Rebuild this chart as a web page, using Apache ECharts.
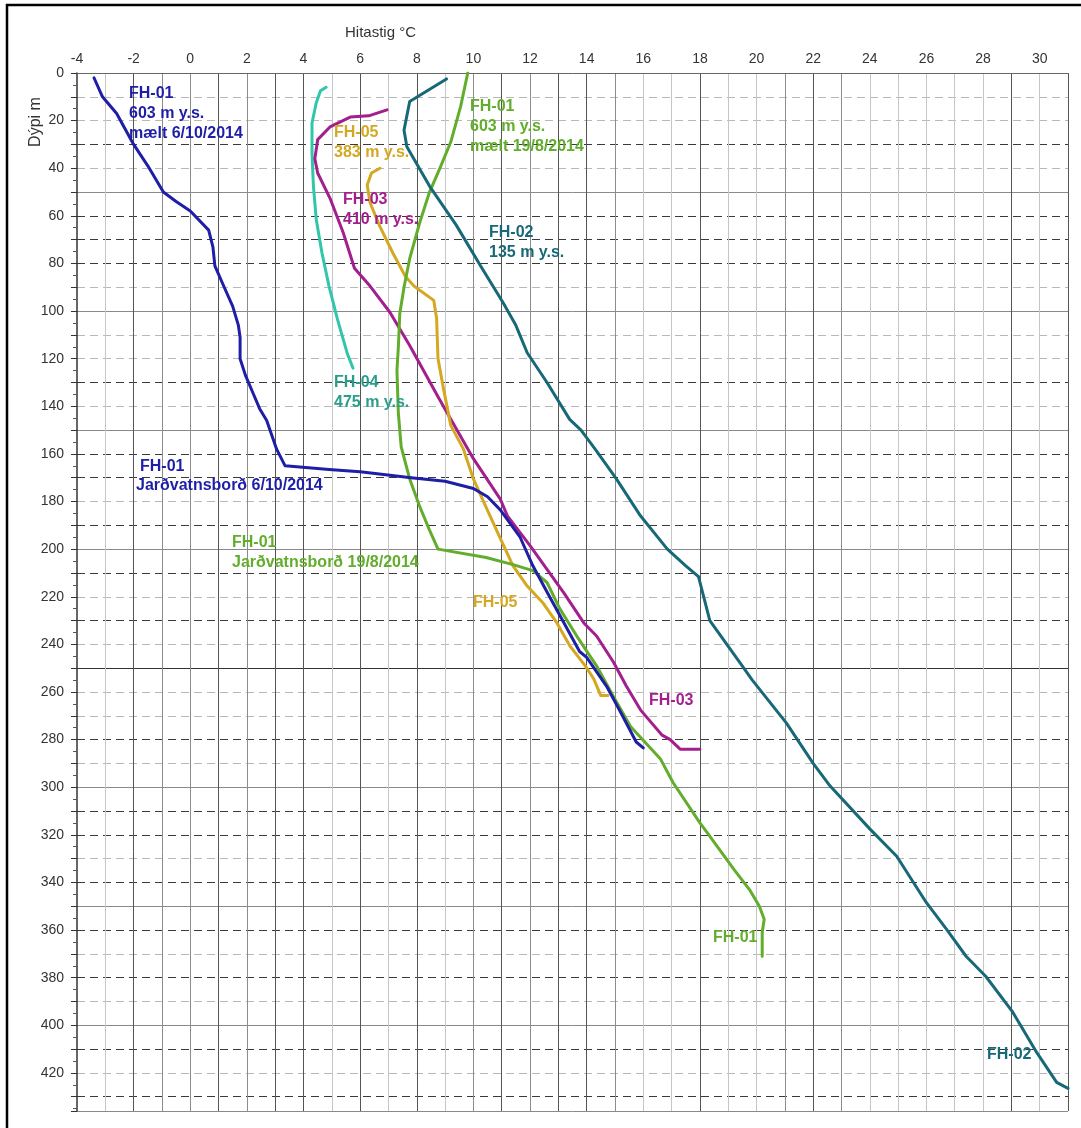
<!DOCTYPE html>
<html>
<head>
<meta charset="utf-8">
<title>Hitastig í borholum</title>
<script src="https://cdn.jsdelivr.net/npm/echarts@6/dist/echarts.min.js"></script>
<style>
  html, body { margin: 0; padding: 0; background: #fff; }
  #chart { width: 1081px; height: 1128px; }
</style>
</head>
<body>
<div id="chart"></div>
<script>
// Temperature profiles [°C, depth m]
const fh01_okt = [[-3.4,2],[-3.1,10],[-2.6,17],[-2.0,30],[-1.5,39],[-0.95,50],[-0.5,54],[0,58],[0.65,66],[0.8,73],[0.87,81],[1.2,90],[1.5,98],[1.7,106],[1.76,111],[1.76,120],[1.95,127],[2.2,134],[2.45,141],[2.7,146],[3.05,158],[3.35,165],[4.9,166.5],[6.0,167.5],[7.8,170],[9.0,171.5],[10.0,174.5],[10.5,178],[10.95,183.5],[11.65,195],[12.1,207],[12.6,218],[13.2,231],[13.75,243],[14.0,245.5],[14.7,257.5],[15.2,268.5],[15.75,281],[16.0,283.5]];
const fh01_agu = [[9.8,0],[9.55,14],[9.2,29],[8.8,40.5],[8.45,50],[8.1,63],[7.75,78],[7.55,90],[7.4,101],[7.35,115],[7.3,125],[7.35,143],[7.45,157],[7.75,170.5],[8.1,182],[8.45,192],[8.75,200],[10.45,203.5],[11.4,206.5],[12.1,209],[12.6,214],[13.05,225],[13.65,236.5],[14.35,249],[14.95,262],[15.55,274.5],[16.6,288],[17.05,298],[18.0,315],[18.25,319],[19.2,334.5],[19.75,343],[20.1,350],[20.27,355.5],[20.2,361],[20.2,371]];
const fh02 = [[9.05,2.5],[7.75,12],[7.55,24],[7.65,31],[8.45,47.5],[9.4,64],[10.25,81],[11.05,96.5],[11.5,106],[11.9,117.5],[12.6,130],[13.4,145.5],[13.8,150],[14.3,158],[15.05,170.5],[15.9,186],[16.85,200],[17.5,207],[17.95,211.5],[18.35,230],[19.4,247.5],[19.85,255],[21.05,273],[22.0,290],[22.6,299.5],[24.0,317.5],[24.95,329],[26.0,348.5],[26.7,359.5],[27.4,371],[28.1,379.5],[29.05,394.5],[29.9,411.5],[30.6,424],[31.0,426.5]];
const fh03 = [[6.95,15.5],[6.3,18],[5.65,18.5],[4.95,22.5],[4.5,28],[4.4,36],[4.5,42],[4.95,53],[5.4,67],[5.8,82],[6.35,89.5],[7.05,100.5],[7.75,114.5],[8.8,137],[9.4,149.5],[10.0,162],[10.95,179],[11.2,186],[12.0,198.5],[12.6,208.5],[13.2,218.5],[13.9,231],[14.35,236.5],[14.95,247.5],[15.4,257.5],[15.9,267.5],[16.65,278],[16.95,280],[17.3,284],[18.0,284]];
const fh04 = [[4.8,6],[4.6,7.5],[4.45,12.5],[4.3,21],[4.3,33.5],[4.35,47.5],[4.45,61.5],[4.65,75.5],[4.9,89.5],[5.2,103.5],[5.55,118],[5.75,124]];
const fh05 = [[6.7,40],[6.4,42],[6.25,47],[6.35,54.5],[6.7,64.5],[7.15,75.5],[7.6,85.5],[7.9,89.5],[8.6,95.5],[8.7,103],[8.75,120],[8.95,133],[9.2,148],[9.65,158],[10.0,170.5],[10.45,182.5],[10.95,195.5],[11.4,207],[11.9,215.5],[12.45,222.5],[12.95,231],[13.4,240.5],[13.95,249],[14.25,254.5],[14.5,261.5],[14.75,261.5]];

// Axis ranges and tick steps
const tempRange = [-4, 31];
const depthRange = [0, 436];
const tempLabelStep = 2;
const depthLabelStep = 20;

// ---- styling ----
const C = {
  navy: '#1e1ea6', green: '#62ad2c', teal: '#186978',
  magenta: '#a21f8d', turq: '#30c6ab', gold: '#d4a820'
};
const FONT = '"Liberation Sans", Arial, sans-serif';

// vertical grid (every 1 °C): shade per line
const vDark = [-2, 1, 3, 4, 6, 8, 11, 13, 14, 18, 22, 29, 31];
const vMed = [-1, 0, 2, 10, 12, 15, 21, 23];
const vColors = [];
for (let t = tempRange[0]; t <= tempRange[1]; t++) {
  if (t === tempRange[0]) vColors.push('rgba(0,0,0,0)');
  else if (vDark.includes(t)) vColors.push('#555');
  else if (vMed.includes(t)) vColors.push('#8c8c8c');
  else vColors.push('#c6c6c6');
}
// horizontal dashed grid (every 10 m)
const hDark = [30, 60, 70, 80, 130, 160, 170, 190, 210, 230, 280, 310, 320, 340, 360, 380, 410, 430];
const hDashColors = [];
for (let d = 0; d <= 430; d += 10) {
  if (d % 50 === 0) hDashColors.push('rgba(0,0,0,0)');
  else if (hDark.includes(d)) hDashColors.push('#3a3a3a');
  else hDashColors.push('#b8b8b8');
}
hDashColors.push('rgba(0,0,0,0)');
// horizontal solid grid (every 50 m)
const hSolidColors = [];
for (let d = 0; d <= 400; d += 50) {
  if (d === 0) hSolidColors.push('rgba(0,0,0,0)');
  else if (d === 250) hSolidColors.push('#333');
  else hSolidColors.push('#8a8a8a');
}
hSolidColors.push('#8a8a8a');

function lineSeries(name, data, color) {
  return {
    name, type: 'line', data, xAxisIndex: 0, yAxisIndex: 0,
    showSymbol: false, symbol: 'none', smooth: false, z: 5,
    lineStyle: { color, width: 3, cap: 'round', join: 'round' },
    emphasis: { disabled: true }
  };
}

function txt(x, y, text, color, size) {
  return {
    type: 'text', x, y, z: 20,
    style: {
      text, fill: color, font: 'bold ' + (size || 16) + 'px ' + FONT,
      lineHeight: 20, verticalAlign: 'top', align: 'left'
    }
  };
}

const option = {
  backgroundColor: '#fff',
  animation: false,
  grid: { left: 77, right: 13, top: 73, bottom: 17 },
  xAxis: [
    {
      type: 'value', position: 'top', min: tempRange[0], max: tempRange[1], interval: tempLabelStep,
      axisLine: { show: true, onZero: false, lineStyle: { color: '#666', width: 1 } },
      axisTick: { show: false },
      axisLabel: {
        color: '#333', fontSize: 14, fontFamily: FONT, margin: 7,
        formatter: v => (v % tempLabelStep === 0 ? String(v) : '')
      },
      splitLine: { show: false }
    },
    {
      type: 'value', position: 'top', min: tempRange[0], max: tempRange[1], interval: 1,
      axisLine: { show: false, onZero: false }, axisTick: { show: false }, axisLabel: { show: false },
      splitLine: { show: true, lineStyle: { color: vColors, width: 1 } }
    }
  ],
  yAxis: [
    {
      type: 'value', position: 'left', inverse: true, min: depthRange[0], max: depthRange[1], interval: 10,
      axisLine: { show: true, onZero: false, lineStyle: { color: '#333', width: 1.5 } },
      axisTick: { show: true, length: 6, lineStyle: { color: '#333' } },
      minorTick: { show: true, splitNumber: 2, length: 4, lineStyle: { color: '#555' } },
      axisLabel: {
        color: '#333', fontSize: 14, fontFamily: FONT, margin: 13,
        formatter: v => (v % depthLabelStep === 0 ? String(v) : '')
      },
      splitLine: { show: false }
    },
    {
      type: 'value', position: 'left', inverse: true, min: depthRange[0], max: depthRange[1], interval: 10,
      axisLine: { show: false, onZero: false }, axisTick: { show: false }, axisLabel: { show: false },
      splitLine: { show: true, lineStyle: { color: hDashColors, width: 1, type: [8, 5] } }
    },
    {
      type: 'value', position: 'left', inverse: true, min: depthRange[0], max: depthRange[1], interval: 50,
      axisLine: { show: false, onZero: false }, axisTick: { show: false }, axisLabel: { show: false },
      splitLine: { show: true, lineStyle: { color: hSolidColors, width: 1 } }
    }
  ],
  series: [
    lineSeries('FH-04', fh04, C.turq),
    lineSeries('FH-03', fh03, C.magenta),
    lineSeries('FH-05', fh05, C.gold),
    lineSeries('FH-01 19/8/2014', fh01_agu, C.green),
    lineSeries('FH-02', fh02, C.teal),
    lineSeries('FH-01 6/10/2014', fh01_okt, C.navy)
  ],
  graphic: [
    { type: 'rect', z: 30, shape: { x: 7, y: 5, width: 1300, height: 1300 },
      style: { fill: 'none', stroke: '#000', lineWidth: 2.5 } },
    { type: 'text', x: 345, y: 25, z: 20,
      style: { text: 'Hitastig °C', fill: '#333', font: '15px ' + FONT, verticalAlign: 'top' } },
    { type: 'text', x: 36, y: 122, rotation: Math.PI / 2, z: 20,
      style: { text: 'Dýpi m', fill: '#333', font: '16px ' + FONT, align: 'center', verticalAlign: 'middle' } },
    txt(129, 84, 'FH-01\n603 m y.s.\nmælt 6/10/2014', C.navy),
    txt(470, 97, 'FH-01\n603 m y.s.\nmælt 19/8/2014', C.green),
    txt(334, 123, 'FH-05\n383 m y.s.', C.gold),
    txt(343, 190, 'FH-03\n410 m y.s.', C.magenta),
    txt(489, 223, 'FH-02\n135 m y.s.', C.teal),
    txt(334, 373, 'FH-04\n475 m y.s.', '#2a9e8b'),
    txt(140, 457, 'FH-01', C.navy),
    txt(136, 476, 'Jarðvatnsborð 6/10/2014', C.navy),
    txt(232, 533, 'FH-01\nJarðvatnsborð 19/8/2014', C.green),
    txt(473, 593, 'FH-05', C.gold),
    txt(649, 691, 'FH-03', C.magenta),
    txt(713, 928, 'FH-01', C.green),
    txt(987, 1045, 'FH-02', C.teal)
  ]
};

const chart = echarts.init(document.getElementById('chart'), null, { renderer: 'canvas' });
chart.setOption(option);
</script>
</body>
</html>
